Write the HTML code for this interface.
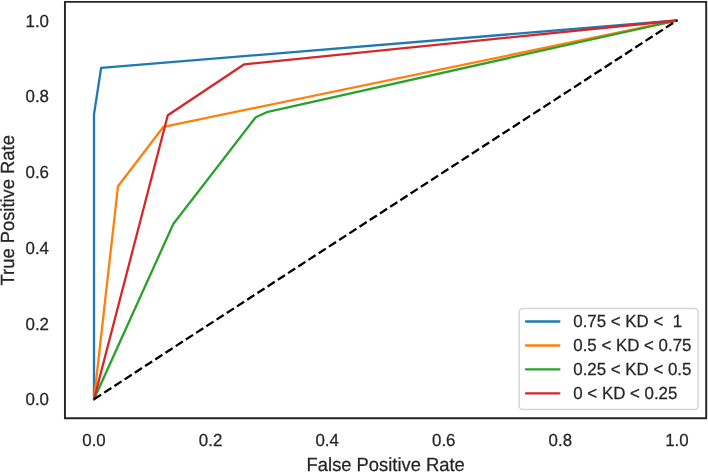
<!DOCTYPE html>
<html><head><meta charset="utf-8"><style>
html,body{margin:0;padding:0;background:#fff;width:708px;height:472px;overflow:hidden}
svg{display:block}
text{font-family:"Liberation Sans",Arial,sans-serif;fill:#262626;stroke:#262626;stroke-width:0.25px;text-rendering:geometricPrecision}
</style></head><body>
<svg width="708" height="472" viewBox="0 0 708 472">
<rect x="0" y="0" width="708" height="472" fill="#fff"/>
<path d="M94.00 399.25 L94.00 114.32 L101.11 67.88 L676.90 20.50" fill="none" stroke="#1f77b4" stroke-width="2.3" stroke-linejoin="round" stroke-linecap="round"/>
<path d="M94.00 399.25 L118.02 186.20 L163.48 126.82 L676.90 20.50" fill="none" stroke="#ff7f0e" stroke-width="2.3" stroke-linejoin="round" stroke-linecap="round"/>
<path d="M94.00 399.25 L173.27 224.00 L255.75 117.23 L267.88 111.78 L676.90 20.50" fill="none" stroke="#2ca02c" stroke-width="2.3" stroke-linejoin="round" stroke-linecap="round"/>
<path d="M94.00 399.25 L167.80 115.19 L244.27 64.32 L676.90 20.50" fill="none" stroke="#d62728" stroke-width="2.3" stroke-linejoin="round" stroke-linecap="round"/>
<path d="M94.00 399.25 L676.90 20.50" fill="none" stroke="#000" stroke-width="2.3" stroke-dasharray="8.49 3.69" stroke-linecap="butt"/>
<path d="M64.95 1.86 L706.2 1.86 M64.95 418.2 L706.2 418.2 M64.95 1.86 L64.95 418.2 M706.2 1.86 L706.2 418.2" fill="none" stroke="#262626" stroke-width="1.95" stroke-linecap="square"/>
<text transform="translate(49.0 405.25) scale(1 1.035)" text-anchor="end" font-size="16.87">0.0</text>
<text transform="translate(49.0 329.50) scale(1 1.035)" text-anchor="end" font-size="16.87">0.2</text>
<text transform="translate(49.0 253.75) scale(1 1.035)" text-anchor="end" font-size="16.87">0.4</text>
<text transform="translate(49.0 178.00) scale(1 1.035)" text-anchor="end" font-size="16.87">0.6</text>
<text transform="translate(49.0 102.25) scale(1 1.035)" text-anchor="end" font-size="16.87">0.8</text>
<text transform="translate(49.0 26.50) scale(1 1.035)" text-anchor="end" font-size="16.87">1.0</text>
<text transform="translate(94.00 446.0) scale(1 1.035)" text-anchor="middle" font-size="16.87">0.0</text>
<text transform="translate(210.58 446.0) scale(1 1.035)" text-anchor="middle" font-size="16.87">0.2</text>
<text transform="translate(327.16 446.0) scale(1 1.035)" text-anchor="middle" font-size="16.87">0.4</text>
<text transform="translate(443.74 446.0) scale(1 1.035)" text-anchor="middle" font-size="16.87">0.6</text>
<text transform="translate(560.32 446.0) scale(1 1.035)" text-anchor="middle" font-size="16.87">0.8</text>
<text transform="translate(676.90 446.0) scale(1 1.035)" text-anchor="middle" font-size="16.87">1.0</text>
<text transform="translate(385.70 470.6) scale(1 1.035)" text-anchor="middle" font-size="18.38">False Positive Rate</text>
<text transform="translate(14.0 210.28) rotate(-90) scale(1 1.035)" text-anchor="middle" font-size="18.38">True Positive Rate</text>
<rect x="519.2" y="308.5" width="178.85" height="100.90" rx="3.37" ry="3.37" fill="#fff" fill-opacity="0.8" stroke="#d6d6d6" stroke-width="1.53"/>
<path d="M526.0 321.5 L559.4 321.5" stroke="#1f77b4" stroke-width="2.3" stroke-linecap="round"/>
<text transform="translate(573.3 327.40) scale(1 1.035)" font-size="16.87">0.75 &lt; KD &lt;&#160; 1</text>
<path d="M526.0 345.5 L559.4 345.5" stroke="#ff7f0e" stroke-width="2.3" stroke-linecap="round"/>
<text transform="translate(573.3 351.40) scale(1 1.035)" font-size="16.87">0.5 &lt; KD &lt; 0.75</text>
<path d="M526.0 369.45 L559.4 369.45" stroke="#2ca02c" stroke-width="2.3" stroke-linecap="round"/>
<text transform="translate(573.3 375.35) scale(1 1.035)" font-size="16.87">0.25 &lt; KD &lt; 0.5</text>
<path d="M526.0 393.4 L559.4 393.4" stroke="#d62728" stroke-width="2.3" stroke-linecap="round"/>
<text transform="translate(573.3 399.30) scale(1 1.035)" font-size="16.87">0 &lt; KD &lt; 0.25</text>
</svg>
</body></html>
